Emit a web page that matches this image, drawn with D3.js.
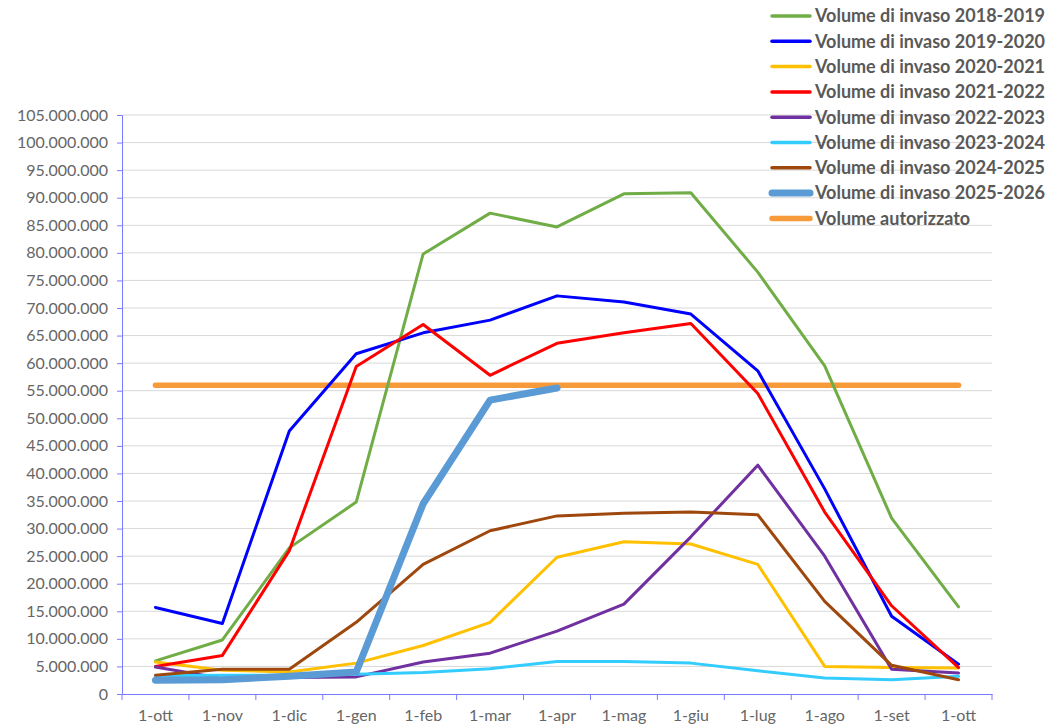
<!DOCTYPE html>
<html>
<head>
<meta charset="utf-8">
<script src="https://cdn.jsdelivr.net/npm/d3@7"></script>
<style>
  body { margin: 0; background: #fff; }
  svg { font-family: Lato, "Open Sans", sans-serif; }
</style>
</head>
<body>
<svg class="vis" width="1061" height="728"></svg>
<script>
// categorie (mesi)
const months = ['1-ott','1-nov','1-dic','1-gen','1-feb','1-mar','1-apr','1-mag','1-giu','1-lug','1-ago','1-set','1-ott '];

const v2018 = [6.0, 9.8, 26.5, 34.8, 79.8, 87.2, 84.7, 90.7, 90.9, 76.5, 59.5, 31.9, 15.8];
const v2019 = [15.7, 12.8, 47.7, 61.7, 65.5, 67.8, 72.2, 71.1, 68.9, 58.6, 37.2, 14.1, 5.4];
const v2020 = [5.8, 4.3, 4.0, 5.6, 8.8, 13.0, 24.8, 27.6, 27.2, 23.5, 5.0, 4.8, 4.7];
const v2021 = [5.0, 7.0, 26.0, 59.4, 67.0, 57.8, 63.6, 65.5, 67.2, 54.5, 33.0, 16.0, 4.8];
const v2022 = [4.9, 2.8, 3.0, 3.1, 5.8, 7.4, 11.4, 16.3, 28.5, 41.5, 25.0, 4.5, 3.8];
const v2023 = [3.3, 3.4, 3.4, 3.6, 3.9, 4.6, 5.9, 5.9, 5.6, 4.2, 2.9, 2.6, 3.2];
const v2024 = [3.4, 4.5, 4.5, 13.0, 23.5, 29.6, 32.3, 32.8, 33.0, 32.5, 16.8, 5.2, 2.6];
const v2025 = [2.5, 2.6, 3.2, 4.0, 34.5, 53.3, 55.5];
const autorizzato = months.map(() => 56.0);

const yTicks = d3.range(0, 105.1, 5);

const series = [
  { name: 'Volume di invaso 2018-2019', values: v2018, color: '#70ad47', w: 3 },
  { name: 'Volume di invaso 2019-2020', values: v2019, color: '#0000ff', w: 3 },
  { name: 'Volume di invaso 2020-2021', values: v2020, color: '#ffc000', w: 3 },
  { name: 'Volume di invaso 2021-2022', values: v2021, color: '#ff0000', w: 3 },
  { name: 'Volume di invaso 2022-2023', values: v2022, color: '#7030a0', w: 3 },
  { name: 'Volume di invaso 2023-2024', values: v2023, color: '#33ccff', w: 3 },
  { name: 'Volume di invaso 2024-2025', values: v2024, color: '#9e480e', w: 3 },
  { name: 'Volume di invaso 2025-2026', values: v2025, color: '#5b9bd5', w: 7 },
  { name: 'Volume autorizzato', values: autorizzato, color: '#f79a3a', w: 5.5 }
];

const svg = d3.select('svg.vis');
const m = { left: 122, right: 992, top: 115, bottom: 694 };

const x = d3.scaleBand().domain(months).range([m.left, m.right]);
const y = d3.scaleLinear().domain([0, 105]).range([m.bottom, m.top]);

const fmt = d => d === 0 ? '0' : d3.format(',')(d * 1e6).replace(/,/g, '.');

// griglia
svg.append('g')
  .selectAll('line')
  .data(yTicks.filter(d => d > 0))
  .join('line')
  .attr('x1', m.left).attr('x2', m.right)
  .attr('y1', d => y(d)).attr('y2', d => y(d))
  .attr('stroke', '#d9d9d9').attr('stroke-width', 1);

// asse y
const gy = svg.append('g')
  .attr('transform', `translate(${m.left},0)`)
  .call(d3.axisLeft(y).tickValues(yTicks).tickFormat(fmt).tickSize(5).tickPadding(9));
gy.select('.domain').attr('stroke', '#7b7bff');
gy.selectAll('.tick line').attr('stroke', '#7b7bff');
gy.selectAll('text').attr('fill', '#666').style('font-size', '16px').style('font-family', 'Lato, sans-serif');

// asse x
const gx = svg.append('g')
  .attr('transform', `translate(0,${m.bottom})`)
  .call(d3.axisBottom(x).tickSize(0).tickPadding(16));
gx.select('.domain').attr('stroke', '#7b7bff');
gx.selectAll('text').attr('fill', '#666').style('font-size', '16px').style('font-family', 'Lato, sans-serif');
gx.selectAll('line.sep')
  .data(d3.range(months.length + 1))
  .join('line')
  .attr('class', 'sep')
  .attr('x1', i => m.left + i * x.step()).attr('x2', i => m.left + i * x.step())
  .attr('y1', 0).attr('y2', 6)
  .attr('stroke', '#7b7bff');

const line = d3.line()
  .x((d, i) => x(months[i]) + x.bandwidth() / 2)
  .y(d => y(d));

// linee (ordine di disegno)
const drawOrder = [8, 0, 1, 2, 3, 4, 5, 6, 7];
svg.append('g')
  .selectAll('path')
  .data(drawOrder.map(i => series[i]))
  .join('path')
  .attr('d', d => line(d.values))
  .attr('fill', 'none')
  .attr('stroke', d => d.color)
  .attr('stroke-width', d => d.w)
  .attr('stroke-linejoin', 'round')
  .attr('stroke-linecap', 'round');

// legenda
const leg = svg.append('g')
  .selectAll('g')
  .data(series)
  .join('g')
  .attr('transform', (d, i) => `translate(0,${16 + i * 25.3})`);
leg.append('line')
  .attr('x1', 772).attr('x2', 810)
  .attr('stroke', d => d.color)
  .attr('stroke-width', d => d.w > 4 ? d.w : 3.5)
  .attr('stroke-linecap', 'round');
leg.append('text')
  .attr('x', 815).attr('dy', '0.35em')
  .attr('fill', '#595959')
  .style('font-size', '18px').style('font-weight', 'bold')
  .text(d => d.name);
</script>
</body>
</html>
